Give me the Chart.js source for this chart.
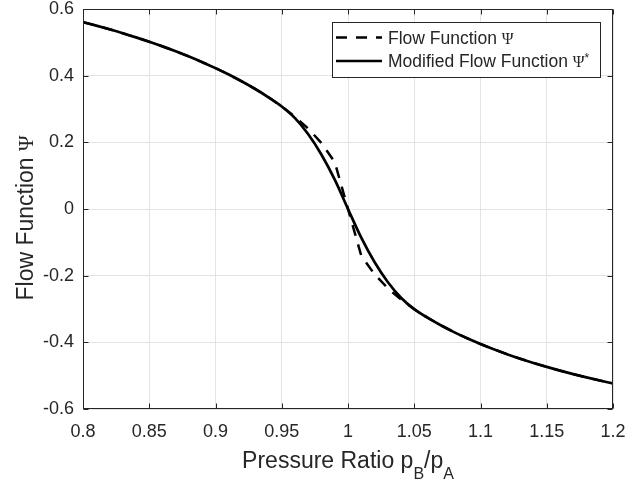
<!DOCTYPE html>
<html>
<head>
<meta charset="utf-8">
<script src="https://cdn.jsdelivr.net/npm/chart.js@4.4.1/dist/chart.umd.min.js"></script>
<style>
  html, body { margin: 0; padding: 0; background: #fff; }
  canvas { display: block; }
</style>
</head>
<body>
<canvas id="chart" width="625" height="484"></canvas>
<script>
// pressure ratio pB/pA, one sample every 0.01
const ratio = [
  0.80, 0.81, 0.82, 0.83, 0.84, 0.85, 0.86, 0.87, 0.88, 0.89,
  0.90, 0.91, 0.92, 0.93, 0.94, 0.95, 0.96, 0.97, 0.98, 0.99,
  1.00, 1.01, 1.02, 1.03, 1.04, 1.05, 1.06, 1.07, 1.08, 1.09,
  1.10, 1.11, 1.12, 1.13, 1.14, 1.15, 1.16, 1.17, 1.18, 1.19, 1.20
];
// flow function (dashed)
const flowFn = [
  0.5607, 0.5502, 0.5391, 0.5274, 0.5149, 0.5018, 0.4879, 0.4731, 0.4573, 0.4405,
  0.4226, 0.4033, 0.3825, 0.3599, 0.3351, 0.3076, 0.2767, 0.2410, 0.1978, 0.1407,
  0,
  -0.1400, -0.1959, -0.2376, -0.2716, -0.3006, -0.3261, -0.3488, -0.3693, -0.3880,
  -0.4051, -0.4209, -0.4355, -0.4491, -0.4619, -0.4737, -0.4849, -0.4954, -0.5052, -0.5145, -0.5233
];
// modified flow function (solid), smoothed between 0.95 and 1.05
const modFlowFn = [
  0.5607, 0.5502, 0.5391, 0.5274, 0.5149, 0.5018, 0.4879, 0.4731, 0.4573, 0.4405,
  0.4226, 0.4033, 0.3825, 0.3599, 0.3351, 0.3076, 0.2726, 0.2243, 0.1629, 0.0882,
  0,
  -0.0861, -0.1590, -0.2189, -0.2661, -0.3006, -0.3261, -0.3488, -0.3693, -0.3880,
  -0.4051, -0.4209, -0.4355, -0.4491, -0.4619, -0.4737, -0.4849, -0.4954, -0.5052, -0.5145, -0.5233
];

const xTicks = [0.8, 0.85, 0.9, 0.95, 1, 1.05, 1.1, 1.15, 1.2];
const xTickLabels = ['0.8', '0.85', '0.9', '0.95', '1', '1.05', '1.1', '1.15', '1.2'];
const yTicks = [-0.6, -0.4, -0.2, 0, 0.2, 0.4, 0.6];
const yTickLabels = ['-0.6', '-0.4', '-0.2', '0', '0.2', '0.4', '0.6'];

const seriesNames = ['Flow Function ', 'Modified Flow Function '];

const SANS = '"Liberation Sans", Arial, Helvetica, sans-serif';
const SERIF = '"Liberation Serif", "DejaVu Serif", serif';
const INK = '#262626';

const toPoints = ys => ratio.map((r, i) => ({ x: r, y: ys[i] }));

// draw a run of text pieces (font, vertical shift) starting at x
function textRun(ctx, parts, x, y) {
  parts.forEach(p => {
    ctx.font = p.font;
    ctx.fillText(p.t, x, y + (p.dy || 0));
    x += ctx.measureText(p.t).width;
  });
}
function runWidth(ctx, parts) {
  let w = 0;
  parts.forEach(p => { ctx.font = p.font; w += ctx.measureText(p.t).width; });
  return w;
}

// MATLAB-like box, inward ticks, axis titles and legend
const frame = {
  id: 'frame',
  afterDraw(chart) {
    const ctx = chart.ctx;
    const a = chart.chartArea;
    const xs = chart.scales.x, ys = chart.scales.y;
    const L = Math.round(a.left) + 0.5, R = Math.round(a.right) - 0.5;
    const T = Math.round(a.top) + 0.5, B = Math.round(a.bottom) - 0.5;
    ctx.save();
    ctx.strokeStyle = INK;
    ctx.lineWidth = 1;
    ctx.setLineDash([]);
    ctx.strokeRect(L, T, R - L, B - T);

    const tl = 5;
    ctx.beginPath();
    xTicks.forEach(v => {
      const px = Math.round(xs.getPixelForValue(v)) + 0.5;
      ctx.moveTo(px, B); ctx.lineTo(px, B - tl);
      ctx.moveTo(px, T); ctx.lineTo(px, T + tl);
    });
    yTicks.forEach(v => {
      const py = Math.round(ys.getPixelForValue(v)) + 0.5;
      ctx.moveTo(L, py); ctx.lineTo(L + tl, py);
      ctx.moveTo(R, py); ctx.lineTo(R - tl, py);
    });
    ctx.stroke();

    ctx.fillStyle = INK;
    ctx.textBaseline = 'alphabetic';
    ctx.textAlign = 'left';

    // x title: Pressure Ratio pB/pA
    const f1 = '23px ' + SANS, f2 = '16px ' + SANS;
    const xParts = [
      { t: 'Pressure Ratio p', font: f1 },
      { t: 'B', font: f2, dy: 11 },
      { t: '/p', font: f1 },
      { t: 'A', font: f2, dy: 11 }
    ];
    const xc = (a.left + a.right) / 2;
    textRun(ctx, xParts, xc - runWidth(ctx, xParts) / 2, 468);

    // y title: Flow Function Psi
    const yParts = [
      { t: 'Flow Function ', font: f1 },
      { t: 'Ψ', font: '21px ' + SERIF }
    ];
    ctx.save();
    ctx.translate(33, 218);
    ctx.rotate(-Math.PI / 2);
    textRun(ctx, yParts, -runWidth(ctx, yParts) / 2, 0);
    ctx.restore();

    // legend
    const lx = 332.5, ly = 22.5, lw = 268, lh = 55;
    ctx.fillStyle = '#fff';
    ctx.fillRect(lx, ly, lw, lh);
    ctx.strokeStyle = INK;
    ctx.strokeRect(lx, ly, lw, lh);
    const rows = [37.5, 61];
    chart.data.datasets.forEach((ds, i) => {
      ctx.strokeStyle = '#000';
      ctx.lineWidth = ds.borderWidth;
      ctx.setLineDash(ds.borderDash || []);
      ctx.beginPath();
      ctx.moveTo(336, rows[i]);
      ctx.lineTo(382, rows[i]);
      ctx.stroke();
      ctx.setLineDash([]);
      const fl = '17.5px ' + SANS;
      const parts = [
        { t: seriesNames[i], font: fl },
        { t: 'Ψ', font: '16px ' + SERIF }
      ];
      if (i === 1) parts.push({ t: '*', font: '12px ' + SANS, dy: -5 });
      ctx.fillStyle = INK;
      textRun(ctx, parts, 388, rows[i] + 6);
    });
    ctx.restore();
  }
};

new Chart(document.getElementById('chart'), {
  type: 'line',
  data: {
    datasets: [
      {
        label: 'Flow Function Ψ',
        data: toPoints(flowFn),
        borderColor: '#000',
        borderWidth: 2.5,
        borderDash: [11, 9],
        pointRadius: 0,
        tension: 0,
        fill: false
      },
      {
        label: 'Modified Flow Function Ψ*',
        data: toPoints(modFlowFn),
        borderColor: '#000',
        borderWidth: 2.7,
        pointRadius: 0,
        cubicInterpolationMode: 'monotone',
        fill: false
      }
    ]
  },
  options: {
    responsive: false,
    animation: false,
    devicePixelRatio: 1,
    layout: { padding: { left: 0, top: 9, right: 12, bottom: 0 } },
    plugins: { legend: { display: false }, tooltip: { enabled: false } },
    scales: {
      x: {
        type: 'linear',
        min: 0.8,
        max: 1.2,
        afterBuildTicks: s => { s.ticks = xTicks.map(v => ({ value: v })); },
        afterFit: s => { s.height = 75; s.paddingLeft = 0; s.paddingRight = 0; },
        grid: { color: '#e3e3e3', drawTicks: false },
        border: { display: false },
        ticks: {
          autoSkip: false,
          maxRotation: 0,
          padding: 12,
          color: INK,
          font: { family: SANS, size: 18 },
          callback: (v, i) => xTickLabels[i]
        }
      },
      y: {
        type: 'linear',
        min: -0.6,
        max: 0.6,
        afterBuildTicks: s => { s.ticks = yTicks.map(v => ({ value: v })); },
        afterFit: s => { s.width = 83; s.paddingTop = 0; s.paddingBottom = 0; },
        grid: { color: '#e3e3e3', drawTicks: false },
        border: { display: false },
        ticks: {
          autoSkip: false,
          padding: 9,
          color: INK,
          font: { family: SANS, size: 18 },
          callback: (v, i) => yTickLabels[i]
        }
      }
    }
  },
  plugins: [frame]
});
</script>
</body>
</html>
